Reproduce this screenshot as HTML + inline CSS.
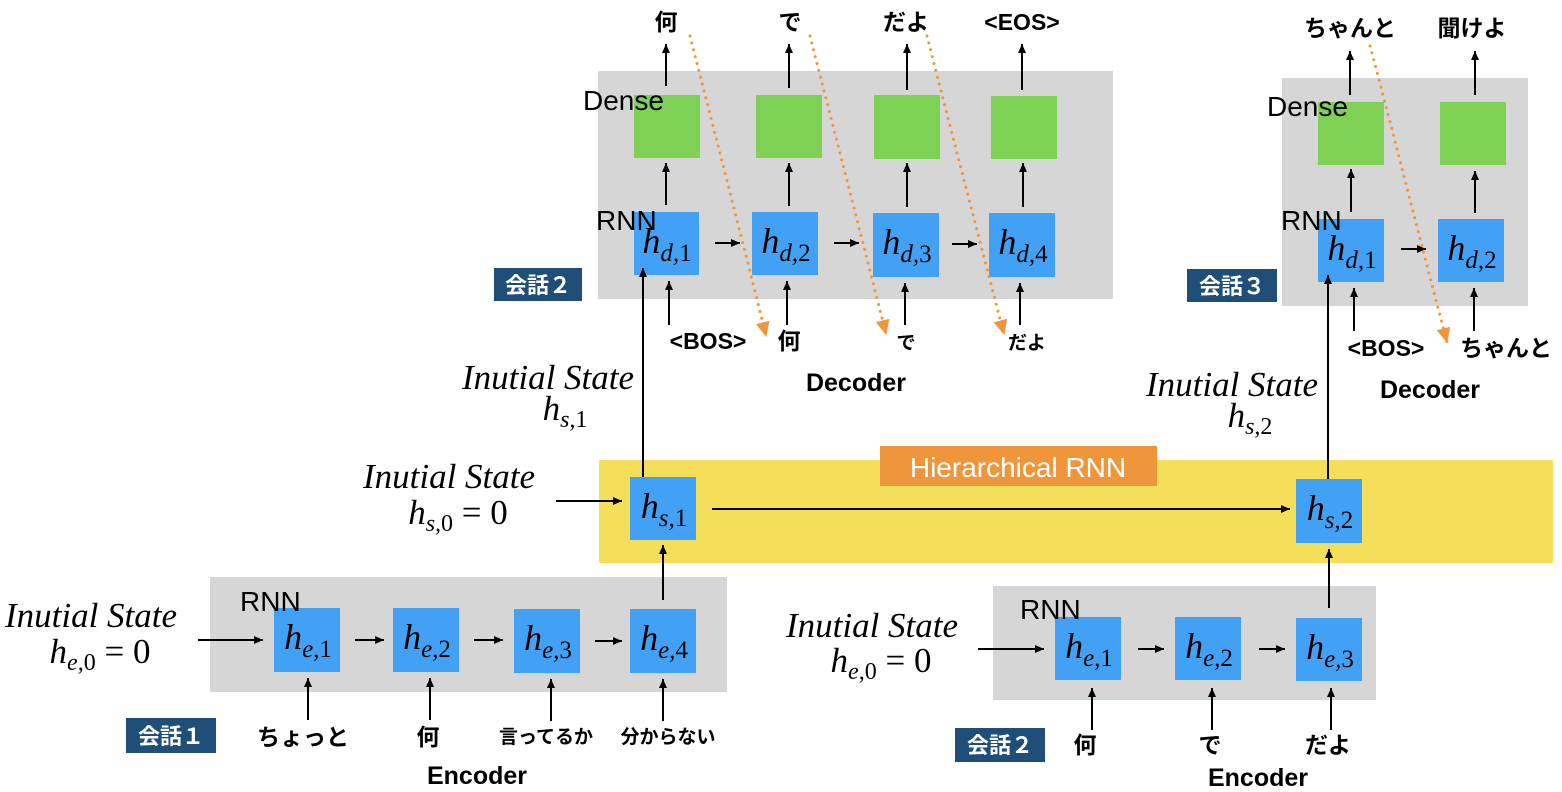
<!DOCTYPE html>
<html><head><meta charset="utf-8"><style>
html,body{margin:0;padding:0;background:#fff}
svg{display:block}
.s{font-family:"Liberation Sans","Noto Sans CJK JP",sans-serif;fill:#000}
.m{font-family:"Liberation Serif",serif;font-style:italic;fill:#000}
.k{font-family:"Liberation Sans","Noto Sans CJK JP",sans-serif;fill:#fff;font-weight:bold}
</style></head><body>
<svg width="1562" height="792" viewBox="0 0 1562 792" xmlns="http://www.w3.org/2000/svg">
<defs>
<marker id="a" markerUnits="userSpaceOnUse" markerWidth="10" markerHeight="10" refX="9" refY="5" orient="auto"><path d="M0,1 L9,5 L0,9 z" fill="#000"/></marker>
<marker id="o" markerUnits="userSpaceOnUse" markerWidth="16" markerHeight="16" refX="14" refY="8" orient="auto"><path d="M0,1 L15,8 L0,15 z" fill="#f0963a"/></marker>
</defs>
<g stroke="none">
<rect x="598" y="71" width="515" height="228" fill="#d6d6d6"/>
<rect x="1282" y="78" width="246" height="228" fill="#d6d6d6"/>
<rect x="210" y="577" width="517" height="115" fill="#d6d6d6"/>
<rect x="993" y="586" width="383" height="114" fill="#d6d6d6"/>
<rect x="599" y="460" width="954" height="103" fill="#f5df5a"/>
<rect x="880" y="446" width="277" height="40" fill="#f0963a"/>
<g fill="#7ed154">
<rect x="634" y="95" width="66" height="63"/><rect x="756" y="95" width="66" height="63"/><rect x="874" y="95" width="66" height="64"/><rect x="991" y="96" width="66" height="63"/>
<rect x="1318" y="102" width="66" height="63"/><rect x="1440" y="102" width="66" height="63"/>
</g>
<g fill="#42a0f5">
<rect x="634" y="212" width="65" height="63"/><rect x="752" y="212" width="66" height="63"/><rect x="873" y="213" width="66" height="64"/><rect x="989" y="213" width="66" height="64"/>
<rect x="1318" y="219" width="66" height="63"/><rect x="1438" y="219" width="66" height="63"/>
<rect x="630" y="477" width="66" height="63"/><rect x="1296" y="479" width="66" height="64"/>
<rect x="274" y="608" width="66" height="64"/><rect x="393" y="608" width="66" height="64"/><rect x="514" y="609" width="66" height="64"/><rect x="630" y="609" width="66" height="64"/>
<rect x="1055" y="617" width="66" height="63"/><rect x="1175" y="617" width="66" height="63"/><rect x="1296" y="618" width="66" height="63"/>
</g>
<g fill="#1f4e79">
<rect x="494" y="268" width="88" height="33"/><rect x="1187" y="269" width="90" height="33"/>
<rect x="126" y="718" width="90" height="35"/><rect x="955" y="728" width="90" height="34"/>
</g>
</g>
<g stroke="#000" stroke-width="2" fill="none" marker-end="url(#a)">
<line x1="666" y1="86" x2="666" y2="44"/><line x1="789" y1="88" x2="789" y2="44"/><line x1="907" y1="90" x2="907" y2="44"/><line x1="1022" y1="90" x2="1022" y2="44"/>
<line x1="666" y1="205" x2="666" y2="163"/><line x1="789" y1="206" x2="789" y2="163"/><line x1="907" y1="207" x2="907" y2="163"/><line x1="1023" y1="207" x2="1023" y2="163"/>
<line x1="715" y1="243" x2="740" y2="243"/><line x1="834" y1="243" x2="859" y2="243"/><line x1="952" y1="244" x2="977" y2="244"/>
<line x1="669" y1="325" x2="669" y2="281"/><line x1="787" y1="325" x2="787" y2="281"/><line x1="905" y1="325" x2="905" y2="283"/><line x1="1020" y1="325" x2="1020" y2="283"/>
<line x1="1350" y1="95" x2="1350" y2="51"/><line x1="1475" y1="95" x2="1475" y2="51"/>
<line x1="1351" y1="212" x2="1351" y2="169"/><line x1="1475" y1="213" x2="1475" y2="171"/>
<line x1="1401" y1="249" x2="1426" y2="249"/>
<line x1="1354" y1="331" x2="1354" y2="288"/><line x1="1474" y1="331" x2="1474" y2="288"/>
<line x1="643" y1="477" x2="643" y2="268"/><line x1="1328" y1="479" x2="1328" y2="275"/>
<line x1="556" y1="501" x2="622" y2="501"/><line x1="712" y1="509" x2="1290" y2="509"/>
<line x1="663" y1="600" x2="663" y2="545"/><line x1="1329" y1="608" x2="1329" y2="549"/>
<line x1="198" y1="640" x2="263" y2="640"/><line x1="355" y1="640" x2="384" y2="640"/><line x1="474" y1="640" x2="503" y2="640"/><line x1="595" y1="641" x2="622" y2="641"/>
<line x1="308" y1="720" x2="308" y2="678"/><line x1="430" y1="720" x2="430" y2="678"/><line x1="551" y1="721" x2="551" y2="679"/><line x1="663" y1="721" x2="663" y2="679"/>
<line x1="978" y1="649" x2="1044" y2="649"/><line x1="1138" y1="649" x2="1164" y2="649"/><line x1="1259" y1="649" x2="1285" y2="649"/>
<line x1="1092" y1="730" x2="1092" y2="688"/><line x1="1212" y1="730" x2="1212" y2="688"/><line x1="1331" y1="730" x2="1331" y2="688"/>
</g>
<g stroke="#f0963a" stroke-width="3" stroke-dasharray="0.1 7" stroke-linecap="round" fill="none" marker-end="url(#o)">
<path d="M690,36 C705,95 745,250 766,336"/>
<path d="M810,36 C825,95 865,250 886,334"/>
<path d="M927,36 C942,95 982,250 1004,334"/>
<path d="M1370,46 C1385,100 1425,260 1447,342"/>
</g>
<g class="s" font-size="23" font-weight="bold" text-anchor="middle">
<text x="666" y="30">何</text><text x="790" y="30">で</text><text x="906" y="30">だよ</text><text x="1022" y="30">&lt;EOS&gt;</text>
<text x="1350" y="36">ちゃんと</text><text x="1472" y="36">聞けよ</text>
<text x="708" y="349">&lt;BOS&gt;</text><text x="789" y="349">何</text><text x="906" y="349" font-size="19">で</text><text x="1027" y="349" font-size="19">だよ</text>
<text x="1386" y="356">&lt;BOS&gt;</text><text x="1506" y="356">ちゃんと</text>
<text x="856" y="391" font-size="25">Decoder</text><text x="1430" y="398" font-size="25">Decoder</text>
<text x="303" y="745">ちょっと</text><text x="428" y="745">何</text><text x="546" y="743" font-size="19">言ってるか</text><text x="668" y="743" font-size="19">分からない</text>
<text x="477" y="784" font-size="25">Encoder</text>
<text x="1085" y="753">何</text><text x="1210" y="753">で</text><text x="1328" y="753">だよ</text>
<text x="1258" y="786" font-size="25">Encoder</text>
</g>
<g class="s" font-size="28">
<text x="583" y="110">Dense</text><text x="596" y="230">RNN</text>
<text x="1267" y="116">Dense</text><text x="1281" y="230">RNN</text>
<text x="240" y="611">RNN</text><text x="1020" y="619">RNN</text>
</g>
<text x="1018" y="477" text-anchor="middle" font-family="Liberation Sans,sans-serif" font-size="28" fill="#fff">Hierarchical RNN</text>
<g class="k" font-size="22" text-anchor="middle">
<text x="538" y="293">会話２</text><text x="1232" y="294">会話３</text>
<text x="171" y="744">会話１</text><text x="1000" y="753">会話２</text>
</g>
<g class="m" font-size="36" text-anchor="middle">
<text x="667" y="253">h<tspan font-size="25" dy="8">d,</tspan><tspan font-size="25" font-style="normal">1</tspan></text>
<text x="786" y="253">h<tspan font-size="25" dy="8">d,</tspan><tspan font-size="25" font-style="normal">2</tspan></text>
<text x="907" y="254">h<tspan font-size="25" dy="8">d,</tspan><tspan font-size="25" font-style="normal">3</tspan></text>
<text x="1023" y="254">h<tspan font-size="25" dy="8">d,</tspan><tspan font-size="25" font-style="normal">4</tspan></text>
<text x="1352" y="260">h<tspan font-size="25" dy="8">d,</tspan><tspan font-size="25" font-style="normal">1</tspan></text>
<text x="1472" y="260">h<tspan font-size="25" dy="8">d,</tspan><tspan font-size="25" font-style="normal">2</tspan></text>
<text x="664" y="518">h<tspan font-size="25" dy="8">s,</tspan><tspan font-size="25" font-style="normal">1</tspan></text>
<text x="1330" y="520">h<tspan font-size="25" dy="8">s,</tspan><tspan font-size="25" font-style="normal">2</tspan></text>
<text x="308" y="649">h<tspan font-size="25" dy="8">e,</tspan><tspan font-size="25" font-style="normal">1</tspan></text>
<text x="427" y="649">h<tspan font-size="25" dy="8">e,</tspan><tspan font-size="25" font-style="normal">2</tspan></text>
<text x="548" y="650">h<tspan font-size="25" dy="8">e,</tspan><tspan font-size="25" font-style="normal">3</tspan></text>
<text x="664" y="650">h<tspan font-size="25" dy="8">e,</tspan><tspan font-size="25" font-style="normal">4</tspan></text>
<text x="1089" y="658">h<tspan font-size="25" dy="8">e,</tspan><tspan font-size="25" font-style="normal">1</tspan></text>
<text x="1209" y="658">h<tspan font-size="25" dy="8">e,</tspan><tspan font-size="25" font-style="normal">2</tspan></text>
<text x="1330" y="659">h<tspan font-size="25" dy="8">e,</tspan><tspan font-size="25" font-style="normal">3</tspan></text>
</g>
<g class="m" font-size="35" text-anchor="middle">
<text x="548" y="389">Inutial State</text>
<text x="565" y="420">h<tspan font-size="24" dy="7">s,</tspan><tspan font-size="24" font-style="normal">1</tspan></text>
<text x="1232" y="396">Inutial State</text>
<text x="1250" y="427">h<tspan font-size="24" dy="7">s,</tspan><tspan font-size="24" font-style="normal">2</tspan></text>
<text x="449" y="488">Inutial State</text>
<text x="458" y="524">h<tspan font-size="24" dy="7">s,</tspan><tspan font-size="24" font-style="normal">0</tspan><tspan font-style="normal" dy="-7"> = 0</tspan></text>
<text x="91" y="627">Inutial State</text>
<text x="100" y="663">h<tspan font-size="24" dy="7">e,</tspan><tspan font-size="24" font-style="normal">0</tspan><tspan font-style="normal" dy="-7"> = 0</tspan></text>
<text x="872" y="637">Inutial State</text>
<text x="881" y="672">h<tspan font-size="24" dy="7">e,</tspan><tspan font-size="24" font-style="normal">0</tspan><tspan font-style="normal" dy="-7"> = 0</tspan></text>
</g>
</svg>
</body></html>
